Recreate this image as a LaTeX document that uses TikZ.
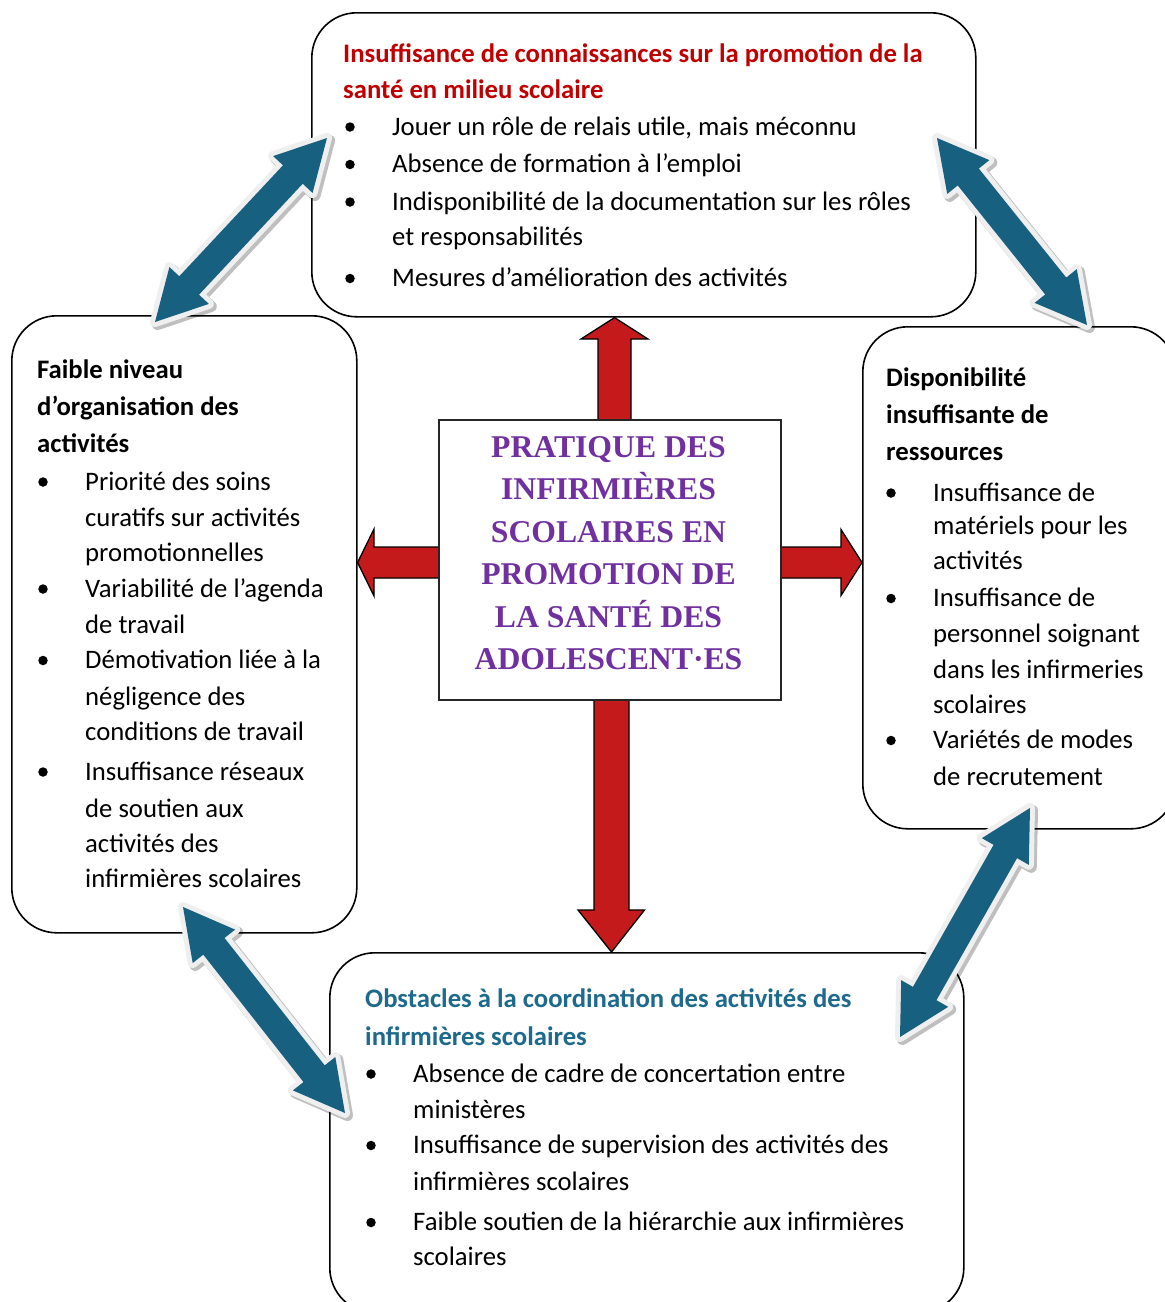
\documentclass[tikz,border=0pt]{standalone}
\usepackage{fontspec}
\setmainfont{Carlito}
\newfontfamily\centerfont{Liberation Serif}
\usetikzlibrary{calc}
\definecolor{titlered}{HTML}{C00000}
\definecolor{titleblue}{HTML}{1D6A8D}
\definecolor{arrowblue}{HTML}{17607F}
\definecolor{arrowred}{HTML}{C41A1C}
\definecolor{centerpurple}{HTML}{7030A0}
\definecolor{arrowrim}{HTML}{EFEFEF}
\newcommand\bluedarrow[3]{%
  \coordinate (#3-a) at ($(#1)!50pt!(#2)$);
  \coordinate (#3-b) at ($(#2)!50pt!(#1)$);
  \path[bluearrow] (#1) -- ($(#3-a)!27pt!90:(#2)$) -- ($(#3-a)!13.5pt!90:(#2)$)
    -- ($(#3-b)!13.5pt!-90:(#1)$) -- ($(#3-b)!27pt!-90:(#1)$) -- (#2)
    -- ($(#3-b)!27pt!90:(#1)$) -- ($(#3-b)!13.5pt!90:(#1)$)
    -- ($(#3-a)!13.5pt!-90:(#2)$) -- ($(#3-a)!27pt!-90:(#2)$) -- cycle;
}
\begin{document}
\begin{tikzpicture}[x=1pt,y=-1pt,
  box/.style={draw=black, line width=1.6pt, rounded corners=45pt, fill=white, anchor=north west, inner sep=0pt},
  centerbox/.style={draw=black!85, line width=1.5pt, fill=white, anchor=north west, inner sep=0pt},
  txt/.style={anchor=base west, inner sep=0pt, font=\fontsize{26.7}{37}\selectfont},
  ttl/.style={txt, font=\fontsize{26.7}{37}\selectfont\bfseries},
  bul/.style={circle, fill=black, inner sep=0pt, minimum size=9.5pt},
  redarrow/.style={fill=arrowred, draw=black, line width=1.3pt, line join=miter},
  bluearrow/.style={fill=arrowblue,
    preaction={draw=black, opacity=0.25, line width=11pt, line join=round, transform canvas={xshift=2.5pt, yshift=-2.5pt}},
    preaction={draw=arrowrim, line width=10pt, line join=round}},
  centertext/.style={align=center, text=centerpurple, inner sep=0pt, font=\centerfont\bfseries\fontsize{31.7}{42.5}\selectfont}
]
\useasboundingbox (0,0) rectangle (1165,1302);
\fill[white] (0,0) rectangle (1165,1302);

% outer boxes
\node[box, minimum width=664pt, minimum height=304pt] (T) at (311,12) {};
\node[box, minimum width=345pt, minimum height=617pt] (L) at (11,315) {};
\node[box, minimum width=313pt, minimum height=502pt] (R) at (862,326) {};
\node[box, minimum width=634pt, minimum height=360pt] (B) at (329,952) {};

% central box reference points
\path (438,419) coordinate (Cnw) (780,699) coordinate (Cse);
\coordinate (Cn) at ($(Cnw)!0.5!(Cnw -| Cse)$);
\coordinate (Cs) at ($(Cse)!0.5!(Cse -| Cnw)$);
\coordinate (Cw) at ($(Cnw)!0.5!(Cnw |- Cse)$);
\coordinate (Ce) at ($(Cse)!0.5!(Cse |- Cnw)$);

% red arrows
\coordinate (uA) at ($(Cn)+(5.5,0)$);
\draw[redarrow] ($(uA)+(-16.5,0)$) -- ($(uA)+(-16.5,-80)$) -- ($(uA)+(-33.5,-80)$)
  -- (uA |- T.south) -- ($(uA)+(33.5,-80)$) -- ($(uA)+(16.5,-80)$) -- ($(uA)+(16.5,0)$);
\coordinate (rA) at ($(Ce)+(0,3.5)$);
\draw[redarrow] ($(rA)+(0,-15.5)$) -- ($(rA)+(61,-15.5)$) -- ($(rA)+(61,-33)$)
  -- (rA -| R.west) -- ($(rA)+(61,33)$) -- ($(rA)+(61,15.5)$) -- ($(rA)+(0,15.5)$);
\coordinate (lA) at ($(Cw)+(0,3.5)$);
\draw[redarrow] ($(lA)+(0,-15.5)$) -- ($(lA)+(-64,-15.5)$) -- ($(lA)+(-64,-33.5)$)
  -- (lA -| L.east) -- ($(lA)+(-64,33.5)$) -- ($(lA)+(-64,15.5)$) -- ($(lA)+(0,15.5)$);
\coordinate (dA) at ($(Cs)+(2.5,0)$);
\draw[redarrow] ($(dA)+(-17.5,0)$) -- ($(dA)+(-17.5,211)$) -- ($(dA)+(-33.5,211)$)
  -- (dA |- B.north) -- ($(dA)+(33,211)$) -- ($(dA)+(17.5,211)$) -- ($(dA)+(17.5,0)$);

\node[centerbox, minimum width=342pt, minimum height=280pt] (C) at (Cnw) {};
\node[centertext] (Ctext) at (608.5,553) {PRATIQUE DES\\INFIRMIÈRES\\SCOLAIRES EN\\PROMOTION DE\\LA SANTÉ DES\\ADOLESCENT·ES};

% top box text
\node[ttl, text=titlered] (t1) at (343,62) {Insuffisance de connaissances sur la promotion de la};
\node[ttl, text=titlered] (t2) at (343,98) {santé en milieu scolaire};
\node[bul] (tb1) at (350,127) {};
\node[txt] (t3) at (392,135) {Jouer un rôle de relais utile, mais méconnu};
\node[bul] (tb2) at (350,164.5) {};
\node[txt] (t4) at (392,172.5) {Absence de formation à l’emploi};
\node[bul] (tb3) at (350,202) {};
\node[txt] (t5) at (392,210) {Indisponibilité de la documentation sur les rôles};
\node[txt] (t6) at (392,245) {et responsabilités};
\node[bul] (tb4) at (350,278.5) {};
\node[txt] (t7) at (392,286.5) {Mesures d’amélioration des activités};

% left box text
\node[ttl] (l1) at (37,378) {Faible niveau};
\node[ttl] (l2) at (37,415) {d’organisation des};
\node[ttl] (l3) at (37,452.5) {activités};
\node[bul] (lb1) at (43,482) {};
\node[txt] (l4) at (85,490) {Priorité des soins};
\node[txt] (l5) at (85,526.5) {curatifs sur activités};
\node[txt] (l6) at (85,561) {promotionnelles};
\node[bul] (lb2) at (43,589) {};
\node[txt] (l7) at (85,597) {Variabilité de l’agenda};
\node[txt] (l8) at (85,633) {de travail};
\node[bul] (lb3) at (43,660.5) {};
\node[txt] (l9) at (85,668.5) {Démotivation liée à la};
\node[txt] (l10) at (85,705) {négligence des};
\node[txt] (l11) at (85,740) {conditions de travail};
\node[bul] (lb4) at (43,772) {};
\node[txt] (l12) at (85,780) {Insuffisance réseaux};
\node[txt] (l13) at (85,817) {de soutien aux};
\node[txt] (l14) at (85,852) {activités des};
\node[txt] (l15) at (85,887) {infirmières scolaires};

% right box text
\node[ttl] (r1) at (886,386) {Disponibilité};
\node[ttl] (r2) at (886,423) {insuffisante de};
\node[ttl] (r3) at (886,460) {ressources};
\node[bul] (rb1) at (891,493) {};
\node[txt] (r4) at (933,501) {Insuffisance de};
\node[txt] (r5) at (933,534.5) {matériels pour les};
\node[txt] (r6) at (933,569) {activités};
\node[bul] (rb2) at (891,598.5) {};
\node[txt] (r7) at (933,606.5) {Insuffisance de};
\node[txt] (r8) at (933,642) {personnel soignant};
\node[txt] (r9) at (933,678) {dans les infirmeries};
\node[txt] (r10) at (933,713) {scolaires};
\node[bul] (rb3) at (891,740.5) {};
\node[txt] (r11) at (933,748.5) {Variétés de modes};
\node[txt] (r12) at (933,785) {de recrutement};

% bottom box text
\node[ttl, text=titleblue] (b1) at (365,1007) {Obstacles à la coordination des activités des};
\node[ttl, text=titleblue] (b2) at (365,1045) {infirmières scolaires};
\node[bul] (bb1) at (371,1074) {};
\node[txt] (b3) at (413,1082) {Absence de cadre de concertation entre};
\node[txt] (b4) at (413,1118) {ministères};
\node[bul] (bb2) at (371,1145.5) {};
\node[txt] (b5) at (413,1153.5) {Insuffisance de supervision des activités des};
\node[txt] (b6) at (413,1190) {infirmières scolaires};
\node[bul] (bb3) at (371,1222.5) {};
\node[txt] (b7) at (413,1230.5) {Faible soutien de la hiérarchie aux infirmières};
\node[txt] (b8) at (413,1265.5) {scolaires};

% blue double arrows
\coordinate (tlA) at (155,322);  \coordinate (tlB) at (327,138);
\coordinate (trA) at (937,138);  \coordinate (trB) at (1087,325);
\coordinate (brA) at (1030,808); \coordinate (brB) at (900,1037);
\coordinate (blA) at (183,907);  \coordinate (blB) at (345,1113);
\bluedarrow{tlA}{tlB}{tl}
\bluedarrow{trA}{trB}{tr}
\bluedarrow{brA}{brB}{br}
\bluedarrow{blA}{blB}{bl}
\end{tikzpicture}
\end{document}
